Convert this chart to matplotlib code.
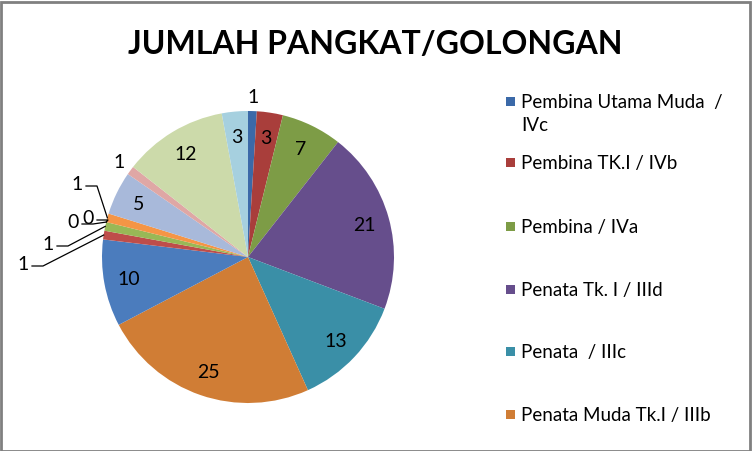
import matplotlib
matplotlib.use("Agg")
import matplotlib.pyplot as plt
import numpy as np

# data, clockwise from 12 o'clock
values = [1, 3, 7, 21, 13, 25, 10, 1, 1, 0, 0, 1, 5, 1, 12, 3]
colors = ["#3B69A8", "#A93E3B", "#7D9C46", "#664E8C", "#3A8FA7", "#D07D35",
          "#4B7CBD", "#BE4D4A", "#98B856", "#7F63A1", "#4AABC5", "#F59545",
          "#A8B9DA", "#DFA7A5", "#CCDAAA", "#A6D0DF"]
legend_labels = ["Pembina Utama Muda  /\nIVc", "Pembina TK.I / IVb", "Pembina / IVa",
                 "Penata Tk. I / IIId", "Penata  / IIIc", "Penata Muda Tk.I / IIIb"]
title = "JUMLAH PANGKAT/GOLONGAN"

# small slices that get leader lines: index -> label position (px, y up)
leader_pos = {7: (23, 187), 8: (48, 207), 9: (73, 229), 10: (88, 233), 11: (77, 267)}

W, H = 752, 452
cx, cy, R = 248, 194, 146

fig = plt.figure(figsize=(W / 100, H / 100), dpi=100)
ax = fig.add_axes([0, 0, 1, 1])

ax.pie(values, colors=colors, startangle=90, counterclock=False,
       center=(cx, cy), radius=R, wedgeprops=dict(linewidth=0))
ax.set_xlim(0, W)
ax.set_ylim(0, H)
ax.set_aspect("auto")
ax.axis("off")

font = ["Lato", "DejaVu Sans"]
total = float(sum(values))
cum = 0.0
for i, v in enumerate(values):
    mid = (cum + v / 2) / total * 360
    cum += v
    a = np.radians(90 - mid)
    if i in leader_pos:
        lx, ly = leader_pos[i]
        ax.text(lx, ly, str(v), ha="center", va="center", fontsize=14, family=font)
        ex, ey = cx + R * np.cos(a), cy + R * np.sin(a)
        ax.plot([lx + 9, lx + 20, ex], [ly - 2, ly - 2, ey], color="black", lw=0.9)
    elif v >= 3:
        ax.text(cx + 0.83 * R * np.cos(a), cy + 0.83 * R * np.sin(a), str(v),
                ha="center", va="center", fontsize=14, family=font)
    else:
        ax.text(cx + 1.1 * R * np.cos(a), cy + 1.1 * R * np.sin(a), str(v),
                ha="center", va="center", fontsize=14, family=font)

ax.text(375, 407, title, ha="center", va="center", fontsize=23,
        fontweight="bold", family=font)

# legend (only first six entries are shown)
leg_y = [350, 289, 225, 162, 100, 37]
for lab, c, y in zip(legend_labels, colors[:6], leg_y):
    ax.add_patch(plt.Rectangle((506, y - 4.5), 9, 9, color=c, lw=0))
    ax.text(521, y + 8, lab, ha="left", va="top", fontsize=13.5,
            family=font, linespacing=1.4)

# outer border
fig.patches.append(plt.Rectangle((0.5 / W, 0.5 / H), 1 - 3 / W, 1 - 3 / H,
                                 transform=fig.transFigure, fill=False,
                                 edgecolor="#808080", lw=2))

fig.savefig("out.png", dpi=100, facecolor="white")
